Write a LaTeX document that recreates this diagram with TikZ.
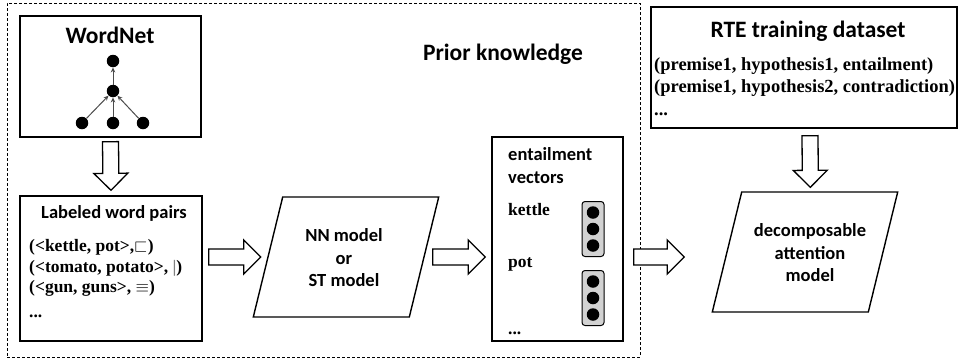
\documentclass[tikz,border=0pt]{standalone}
\usepackage{fontspec}
\setmainfont{Liberation Serif}
\setsansfont{Carlito}
\usepackage{amssymb}
\usetikzlibrary{arrows.meta, positioning, calc}
\tikzset{%
	box/.style={
		draw,
		line width=1.4pt,
		inner sep=0pt
	},
	titletext/.style={
		font=\sffamily\bfseries\fontsize{23.5}{28}\selectfont,
		inner sep=0pt,
		anchor=base
	},
	sanstext/.style={
		font=\sffamily\bfseries\fontsize{18.5}{22.5}\selectfont,
		inner sep=0pt
	},
	serifline/.style={
		font=\bfseries\fontsize{17.5}{20}\selectfont,
		inner sep=0pt,
		anchor=base west
	},
	rteline/.style={
		serifline,
		font=\bfseries\fontsize{18.5}{22}\selectfont
	},
	modelshape/.style={
		draw,
		line width=1.4pt,
		minimum width=156,
		minimum height=120,
		inner sep=0pt,
		xslant=0.245,
		transform shape
	},
	blackdot/.style={
		circle,
		fill=black,
		minimum size=12.5,
		inner sep=0pt
	},
	vecbox/.style={
		draw,
		line width=1pt,
		rounded corners=3pt,
		fill=gray!35,
		minimum width=22,
		minimum height=55,
		inner sep=0pt
	},
	hollow/.style={
		draw,
		line width=1.3pt,
		fill=white
	},
	hypernym/.style={
		draw=gray!60!black,
		line width=1pt,
		-{Stealth[length=5pt, width=4.5pt]}
	},
}
% hollow block arrow from #1 to #2
\newcommand{\blockarrow}[2]{%
	\draw[hollow] let \p1=(#1), \p2=(#2),
		\n1={atan2(\y2-\y1,\x2-\x1)}, \n2={veclen(\x2-\x1,\y2-\y1)-17} in
		[shift={(\p1)}, rotate=\n1]
		(0pt,8pt) -- (\n2,8pt) -- (\n2,17pt) -- (\n2+17pt,0pt)
		-- (\n2,-17pt) -- (\n2,-8pt) -- (0pt,-8pt) -- cycle;}

\begin{document}
\begin{tikzpicture}[x=1pt, y=-1pt]
	\useasboundingbox (0,0) rectangle (961,360);
	
	% prior knowledge
	\node[draw, dash pattern=on 3pt off 2pt, line width=0.8pt, minimum width=633, minimum height=354, inner sep=0pt] (prior) at (323.5,180) {};
	\node[titletext] (priortitle) at (503,60) {Prior knowledge};
	
	% WordNet
	\node[box, minimum width=181, minimum height=121] (wordnet) at (110.5,76.5) {};
	\node[titletext] (wordnettitle) at (110,43) {WordNet};
	\node[blackdot] (root) at (113,61) {};
	\node[blackdot] (hyper) at (113,91) {};
	\node[blackdot] (leafa) at (82,123) {};
	\node[blackdot] (leafb) at (113,123) {};
	\node[blackdot] (leafc) at (143,123) {};
	\draw[hypernym] (hyper) -- (root);
	\draw[hypernym] (leafa) -- (hyper);
	\draw[hypernym] (leafb) -- (hyper);
	\draw[hypernym] (leafc) -- (hyper);
	
	% labeled word pairs
	\node[box, minimum width=182, minimum height=145] (pairs) at (111,268.5) {};
	\node[sanstext, anchor=base] (pairstitle) at (114,218) {Labeled word pairs};
	\node[serifline] (pairone) at (29,251) {(<kettle, pot>,$\sqsubset$)};
	\node[serifline] (pairtwo) at (29,272) {(<tomato, potato>, {\color{gray}|})};
	\node[serifline] (pairthree) at (29,292) {(<gun, guns>, $\equiv$)};
	\node[serifline] (pairmore) at (29,317) {...};
	
	% NN / ST model
	\node[modelshape] (nn) at (346,257) {};
	\node[sanstext, align=center] (nntext) at (344,258) {NN model\\or\\ST model};
	
	% entailment vectors
	\node[box, minimum width=131, minimum height=204] (entail) at (557.5,239) {};
	\node[sanstext, anchor=base west] (entailtitle) at (508,160) {entailment};
	\node[sanstext, anchor=base west] (entailtitleb) at (508,183) {vectors};
	\node[serifline] (kettle) at (508,215) {kettle};
	\node[serifline] (pot) at (508,267) {pot};
	\node[serifline] (vecmore) at (508,334) {...};
	\node[vecbox] (kettlevec) at (593,229) {};
	\node[vecbox] (potvec) at (593,298) {};
	\foreach \dy [count=\i] in {-16.5,0,16.5} {
		\node[blackdot] (kettledot\i) at ($(kettlevec)+(0,\dy)$) {};
		\node[blackdot] (potdot\i) at ($(potvec)+(0,\dy)$) {};
	}
	
	% RTE training dataset
	\node[box, minimum width=306, minimum height=121] (rte) at (804,67.5) {};
	\node[titletext] (rtetitle) at (808,37) {RTE training dataset};
	\node[rteline] (rteone) at (654,70) {(premise1, hypothesis1, entailment)};
	\node[rteline] (rtetwo) at (654,92) {(premise1, hypothesis2, contradiction)};
	\node[rteline] (rtemore) at (654,115) {...};
	
	% decomposable attention model
	\node[modelshape] (dam) at (805,252) {};
	\node[sanstext, align=center] (damtext) at (810,253) {decomposable\\attention\\model};
	
	% block arrows
	\blockarrow{$(wordnet.south)+(0,4)$}{$(pairs.north)+(0,-5)$}
	\blockarrow{$(pairs.east)+(6,-11.5)$}{$(nn.west)+(-6.5,0)$}
	\blockarrow{$(nn.east)+(8,0)$}{$(entail.west)+(-6,18)$}
	\blockarrow{$(entail.east)+(10,18)$}{$(dam.west)+(-42,5)$}
	\blockarrow{$(rte.south)+(6,7)$}{$(dam.north)+(-9.5,-4)$}
\end{tikzpicture}
\end{document}
